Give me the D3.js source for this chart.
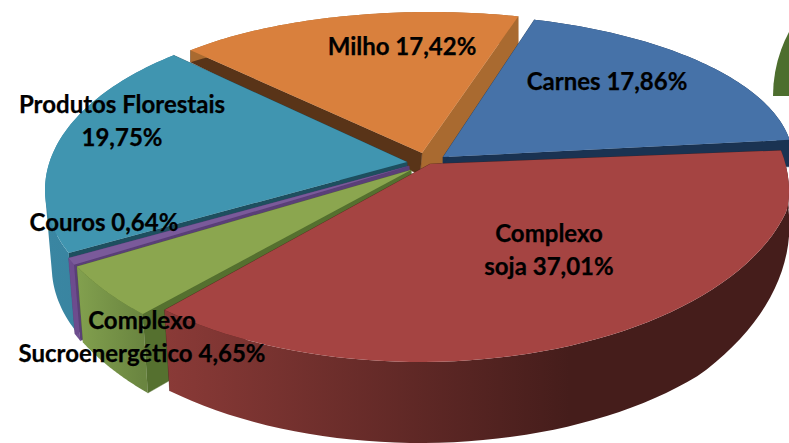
<!DOCTYPE html>
<html><head><meta charset="utf-8">
<script src="https://cdn.jsdelivr.net/npm/d3@7/dist/d3.min.js"></script>
<style>html,body{margin:0;padding:0;background:#fff;overflow:hidden}svg{display:block}</style>
</head><body><svg id="c" width="789" height="443"></svg>
<script>
const categories = ["Carnes","Complexo soja","Complexo Sucroenergético","Couros","Produtos Florestais","Milho"];
const values = [17.86,37.01,4.65,0.64,19.75,17.42];

const labelLines = [["Carnes %"],["Complexo","soja %"],["Complexo","Sucroenergético %"],["Couros %"],["Produtos Florestais","%"],["Milho %"]];
const labelX = [607,549,142,104,122,402];
const labelY = [80.5,232.5,319.5,221.5,103.5,45.5];
const lineStep = 32.5;

const rad = Math.PI/180;
// per-slice 3D geometry (ellipse of the top face, hub, wall depth)
const geometry = [
 {ex:436,ey:160,a:357,b:146,rot:0,hub:[443,157],d:[8,27],dMax:99,s:1,taper:0,hbS:[443,165],hbE:[443,165]},
 {ex:420,ey:165,a:377,b:197,rot:3.7,hub:[430,164],d:[58,128],dMax:81,s:.98,taper:15,hbS:[430,215],hbE:[430,215]},
 {ex:416,ey:178.5,a:380,b:195,rot:7,hub:[411,170],d:[79,76],dMax:99,s:.982,taper:0,hbS:[415,240],hbE:[415,240]},
 {ex:385,ey:194,a:340,b:175,rot:10,hub:[409,166],d:[76,76],dMax:99,s:.98,taper:0,hbS:[411,200],hbE:[411,200]},
 {ex:385,ey:190,a:340,b:172,rot:10,hub:[407,162],d:[77,77],dMax:99,s:.98,taper:0,hbS:[408,200],hbE:[408,200]},
 {ex:430,ey:126,a:320,b:114,rot:0,hub:[422,153],d:[12,30],dMax:99,s:1,taper:0,hbS:[420,175],hbE:[443,163]}
];
const topColors = ["#4672a8","#a54442","#8ba64f","#7a5a9a","#4095b0","#d9803d"];
const startWall = ["#1a3352","#4a1e1c","#55702f","#5a3f78","#1e4f5f","#593418"];
const endWall   = ["#1a3352","#4a1e1c","#55702f","#5a3f78","#1e4f5f","#a96a30"];
const wallStops = [["#1a3352","#1a3352"],["#8a3a37","#451d1b"],["#82a04e","#6a8540"],["#6d4c8e","#6d4c8e"],["#3a86a2","#37809c"],["#a96a30","#a96a30"]];
const drawOrder = [5,0,4,3,2,1];

const svg = d3.select("#c");
const defs = svg.append("defs");
const pie = d3.pie().sort(null).value(d=>d).startAngle(16*rad).endAngle(376*rad);
const arcs = pie(values);
const line = d3.line();

const top3 = (g,th,f)=>{const t=th+g.rot*rad;
  return [g.ex+g.a*Math.sin(t)-g.taper*Math.max(0,1-f/.125),g.ey-g.b*Math.cos(t)];};
const bot3 = (g,th,f)=>{
  const t=th+g.rot*rad, dep=Math.min(g.dMax,g.d[0]+(g.d[1]-g.d[0])*f);
  return [g.ex+g.a*Math.sin(t)*g.s,g.ey-g.b*Math.cos(t)+dep];
};
const oriented = q => d3.polygonArea(q)<0 ? q.slice().reverse() : q;

// decorative piece at the top right
svg.append("path")
  .attr("transform","translate(909,96)")
  .attr("d",d3.arc()({innerRadius:0,outerRadius:136,startAngle:-90*rad,endAngle:-50*rad}))
  .attr("fill","#4d6e2e");

drawOrder.forEach(i=>{
  const g=geometry[i],A=arcs[i];
  const T=d3.scaleLinear().domain([0,1]).range([A.startAngle,A.endAngle]);
  const fs=d3.range(0,1.0001,1/60);
  const topArc=fs.map(f=>top3(g,T(f),f));
  const botArc=fs.map(f=>bot3(g,T(f),f));
  const id="wall"+i;
  const grad=defs.append("linearGradient").attr("id",id).attr("gradientUnits","userSpaceOnUse")
     .attr("x1",i===1?165:d3.min(topArc,p=>p[0])).attr("x2",i===1?570:d3.max(topArc,p=>p[0])).attr("y1",0).attr("y2",0);
  grad.append("stop").attr("offset",0).attr("stop-color",wallStops[i][0]);
  grad.append("stop").attr("offset",1).attr("stop-color",wallStops[i][1]);
  const G=svg.append("g").attr("class","slice").attr("data-cat",categories[i]);
  // radial walls and hub underside
  G.append("path").attr("fill",endWall[i]).attr("stroke",endWall[i]).attr("stroke-width",.4)
    .attr("d",line([g.hub,topArc[60],botArc[60],g.hbE,g.hbS])+"Z");
  G.append("path").attr("fill",startWall[i]).attr("stroke",startWall[i]).attr("stroke-width",.4)
    .attr("d",line([g.hub,topArc[0],botArc[0],g.hbS])+"Z");
  // outer wall: equally oriented subpaths of a single path, so no seams and a closed silhouette
  G.append("path").attr("fill",`url(#${id})`)
    .attr("d",d3.range(60).map(k=>line(oriented([topArc[k],topArc[k+1],botArc[k+1],botArc[k]]))+"Z").join(""));
  // top face
  G.append("path").attr("fill",topColors[i])
    .attr("d",line([g.hub].concat(topArc))+"Z");
});

const fmt=d=>d3.format(".2f")(d).replace(".",",")+"%";
labelLines.forEach((ls,i)=>{
  const t=svg.append("text").attr("font-family","Lato, 'Open Sans', sans-serif").attr("font-weight",700)
    .attr("font-size",24).attr("fill","#000").attr("stroke","#000").attr("stroke-width",.25).attr("text-anchor","middle");
  ls.forEach((s,k)=>{
    t.append("tspan").attr("x",labelX[i]).attr("y",labelY[i]+k*lineStep).attr("dominant-baseline","central")
      .text(s.replace("%",fmt(values[i])));
  });
});
</script></body></html>
